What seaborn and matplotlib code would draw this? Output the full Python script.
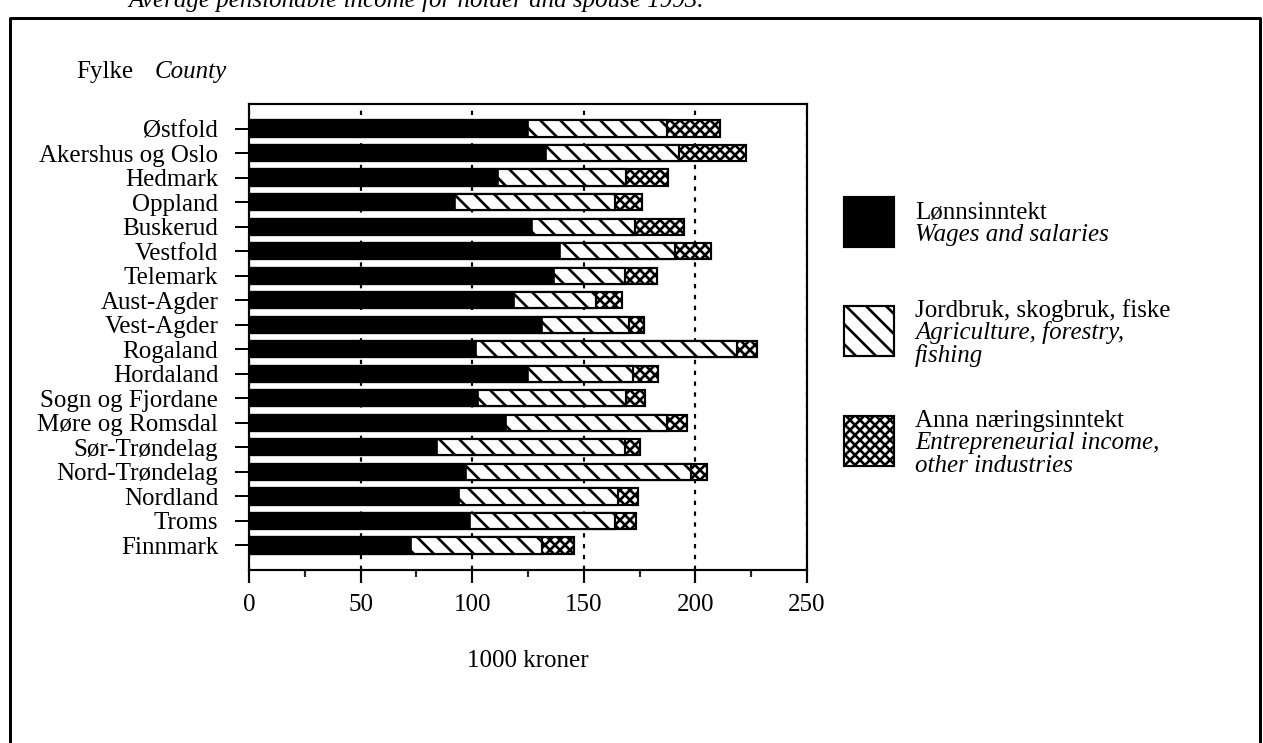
import matplotlib
matplotlib.use("Agg")
import matplotlib.pyplot as plt
import seaborn as sns
import pandas as pd
from matplotlib.patches import Rectangle
from matplotlib.lines import Line2D

counties = ["Østfold", "Akershus og Oslo", "Hedmark", "Oppland", "Buskerud",
            "Vestfold", "Telemark", "Aust-Agder", "Vest-Agder", "Rogaland",
            "Hordaland", "Sogn og Fjordane", "Møre og Romsdal", "Sør-Trøndelag",
            "Nord-Trøndelag", "Nordland", "Troms", "Finnmark"]
wages = [125.1, 133.1, 111.6, 92.3, 126.6, 139.5, 136.7, 118.6, 131.3, 101.9,
         125.1, 102.5, 115.3, 84.4, 97.2, 94.1, 99.1, 72.8]
agri = [62.2, 59.5, 57.4, 71.6, 46.3, 51.2, 31.6, 37.0, 39.0, 116.7,
        47.0, 66.2, 72.0, 84.2, 100.9, 71.2, 64.7, 58.5]
other = [23.5, 30.2, 18.6, 12.3, 22.1, 16.4, 14.7, 11.4, 6.5, 9.1,
         11.0, 8.7, 9.1, 6.6, 6.9, 8.8, 9.6, 14.2]
xticks = [0, 50, 100, 150, 200, 250]
xminor = [25, 75, 125, 175, 225]

sns.set_theme(style="ticks")
plt.rcParams["font.family"] = ["Liberation Serif", "DejaVu Serif"]
plt.rcParams["hatch.color"] = "black"
plt.rcParams["hatch.linewidth"] = 1.6
plt.rcParams["text.color"] = "black"

df = pd.DataFrame({"county": counties, "wages": wages, "agri": agri, "other": other})
df["cum2"] = df["wages"] + df["agri"]
df["total"] = df["cum2"] + df["other"]

W, H, DPI = 1263, 743, 120
fig = plt.figure(figsize=(W / DPI, H / DPI), dpi=DPI)
fx = lambda px: px / W
fy = lambda py: 1 - py / H

ax = fig.add_axes([fx(249), fy(570), fx(807) - fx(249), fy(104) - fy(570)])
ax.set_axisbelow(True)

common = dict(data=df, y="county", orient="h", width=0.66, saturation=1,
              edgecolor="black", ax=ax, order=counties)
sns.barplot(x="total", color="white", hatch="xxxx", linewidth=1.3, **common)
sns.barplot(x="cum2", color="white", hatch="\\\\", linewidth=1.3, **common)
sns.barplot(x="wages", color="black", linewidth=1.0, **common)

ax.set_xlim(0, 250)
ax.set_ylim(len(counties), -1)
ax.set_xticks(xticks)
ax.set_xticks(xminor, minor=True)
ax.set_xlabel("")
ax.set_ylabel("")
ax.xaxis.grid(True, which="major", color="black", linestyle=(0, (2, 3)), linewidth=1.3)
ax.yaxis.grid(False)
for s in ax.spines.values():
    s.set_visible(True)
    s.set_linewidth(1.3)
    s.set_color("black")
ax.tick_params(axis="x", which="major", direction="out", length=7.5, width=1.3,
               labelsize=15, pad=7, colors="black")
ax.tick_params(axis="x", which="minor", direction="out", length=4, width=1.3)
ax.tick_params(axis="y", direction="out", length=8.4, width=1.2,
               labelsize=15, pad=10, colors="black")

# axis texts
fig.text(fx(528), fy(661), "1000 kroner", ha="center", va="center", fontsize=15)
fig.text(fx(76), fy(78), "Fylke", ha="left", va="baseline", fontsize=15)
fig.text(fx(155), fy(78), "County", ha="left", va="baseline", fontsize=15, style="italic")

# partially visible heading at top (cut by the page edge, as in the reference)
fig.text(fx(128), fy(7), "Average pensionable income for holder and spouse 1993.",
         ha="left", va="baseline", fontsize=15, style="italic")

# outer frame (no bottom edge)
fig.add_artist(Line2D([fx(10), fx(10), fx(1260), fx(1260)],
                      [0, fy(18), fy(18), 0], transform=fig.transFigure,
                      color="black", linewidth=1.8))

# legend
legend_items = [
    (dict(facecolor="black", hatch=None), 197, ["Lønnsinntekt", "Wages and salaries"], 219),
    (dict(facecolor="white", hatch="\\\\"), 306,
     ["Jordbruk, skogbruk, fiske", "Agriculture, forestry,", "fishing"], 317),
    (dict(facecolor="white", hatch="xxxx"), 416,
     ["Anna næringsinntekt", "Entrepreneurial income,", "other industries"], 427),
]
for style, top, lines, base in legend_items:
    rect = Rectangle((fx(844), fy(top + 50)), fx(894) - fx(844), fy(top) - fy(top + 50),
                     transform=fig.transFigure, edgecolor="black", linewidth=1.3, **style)
    fig.add_artist(rect)
    for i, t in enumerate(lines):
        fig.text(fx(915), fy(base + i * 22.5), t, ha="left", va="baseline", fontsize=15,
                 style="normal" if i == 0 else "italic")

fig.savefig("out.png", dpi=DPI)
